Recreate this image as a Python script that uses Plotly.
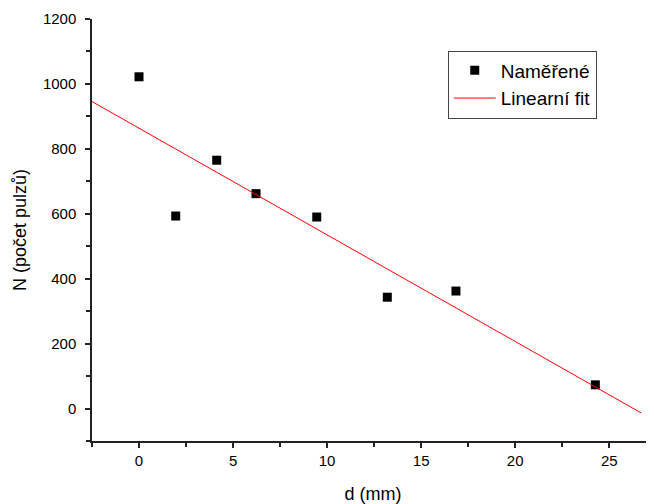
import numpy as np
import plotly.graph_objects as go

# Measured data
d_mm = [0.0, 1.95, 4.13, 6.22, 9.45, 13.2, 16.85, 24.26]
n_pulses = [1022, 593, 765, 662, 590, 343, 362, 73]

# Linear fit span
fit_x_span = [-2.5, 26.7]

x_ticks = [0, 5, 10, 15, 20, 25]
y_ticks = [0, 200, 400, 600, 800, 1000, 1200]

slope, intercept = np.polyfit(d_mm, n_pulses, 1)
fit_x = np.array(fit_x_span)
fit_y = slope * fit_x + intercept

font_family = "Liberation Sans, Arial, sans-serif"

fig = go.Figure()
fig.add_trace(go.Scatter(
    x=d_mm, y=n_pulses, mode="markers", name="Naměřené",
    marker=dict(symbol="square", size=9, color="black"),
))
fig.add_trace(go.Scatter(
    x=fit_x, y=fit_y, mode="lines", name="Linearní fit",
    line=dict(color="red", width=1),
))

fig.update_layout(
    width=646, height=496,
    margin=dict(l=84, r=0, t=11, b=63),
    plot_bgcolor="white", paper_bgcolor="white",
    font=dict(family=font_family, color="black", size=15),
    legend=dict(
        x=0.633, y=(441 - 84.5) / 422, xanchor="left", yanchor="middle",
        bordercolor="#444", borderwidth=1, bgcolor="white",
        font=dict(size=19, family=font_family),
        tracegroupgap=0, itemwidth=42,
    ),
)
fig.update_xaxes(
    range=[-2.5, 27.38], tickvals=x_ticks, ticks="outside", ticklen=5, tickwidth=1.5,
    tickcolor="#222", showline=True, linecolor="#222", linewidth=1.5,
    showgrid=False, zeroline=False, automargin=False,
    minor=dict(ticks="outside", ticklen=4, dtick=2.5, tickcolor="#222", tickwidth=1.5, showgrid=False),
    title=dict(text="d (mm)", font=dict(size=18), standoff=22),
    tickfont=dict(size=15),
)
fig.update_yaxes(
    range=[-100, 1200], tickvals=y_ticks, ticks="outside", ticklen=5, tickwidth=1.5,
    tickcolor="#222", showline=True, linecolor="#222", linewidth=1.5,
    showgrid=False, zeroline=False, automargin=False,
    minor=dict(ticks="outside", ticklen=4, dtick=100, tickcolor="#222", tickwidth=1.5, showgrid=False),
    title=dict(text="N (počet pulzů)", font=dict(size=18), standoff=12),
    tickfont=dict(size=15),
    ticklabelstandoff=6,
)

fig.write_html("out.html")
